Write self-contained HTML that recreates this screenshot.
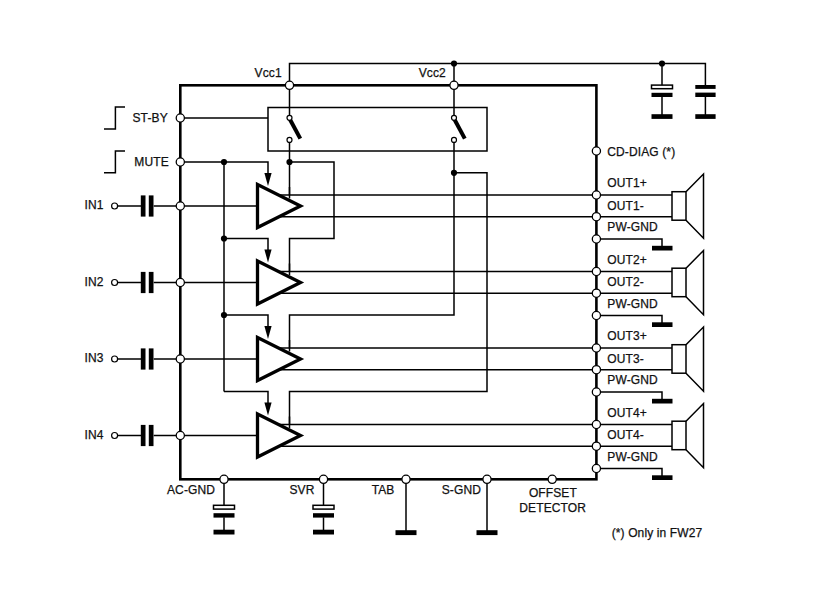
<!DOCTYPE html>
<html><head><meta charset="utf-8"><title>Amplifier block diagram</title>
<style>html,body{margin:0;padding:0;background:#fff;width:814px;height:595px;overflow:hidden}svg{display:block}text{font-family:"Liberation Sans",sans-serif}</style>
</head><body>
<svg width="814" height="595" viewBox="0 0 814 595"><rect width="814" height="595" fill="#fff"/><g stroke="#000" fill="none" stroke-linecap="butt"><polyline points="289.5,85.3 289.5,63.5 705.4,63.5 705.4,86" fill="none" stroke-width="1.5"/><line x1="454.0" y1="63.5" x2="454.0" y2="85.3" stroke-width="1.5"/><line x1="662" y1="63.5" x2="662" y2="86" stroke-width="1.5"/><circle cx="454.0" cy="63.5" r="3.1" fill="#000" stroke="none"/><circle cx="662" cy="63.5" r="3.1" fill="#000" stroke="none"/><rect x="651.5" y="85.1" width="21.0" height="3.6000000000000085" fill="#fff" stroke="#000" stroke-width="1.5"/><rect x="651.5" y="92.8" width="21.0" height="4.200000000000003" fill="#000" stroke="none" stroke-width="0"/><line x1="662" y1="96.8" x2="662" y2="115" stroke-width="1.5"/><rect x="651.5" y="114.2" width="21.0" height="4.700000000000003" fill="#000" stroke="none" stroke-width="0"/><rect x="695.3" y="85.0" width="20.300000000000068" height="3.9000000000000057" fill="#000" stroke="none" stroke-width="0"/><rect x="695.3" y="92.6" width="20.300000000000068" height="4.400000000000006" fill="#000" stroke="none" stroke-width="0"/><line x1="705.4" y1="96.8" x2="705.4" y2="115" stroke-width="1.5"/><rect x="695.3" y="114.2" width="20.300000000000068" height="4.700000000000003" fill="#000" stroke="none" stroke-width="0"/><rect x="268" y="107.5" width="219.0" height="43.5" fill="none" stroke-width="1.5"/><line x1="180.3" y1="118" x2="268" y2="118" stroke-width="1.5"/><line x1="289.5" y1="85.3" x2="289.5" y2="115.5" stroke-width="1.5"/><line x1="289.5" y1="142.5" x2="289.5" y2="162" stroke-width="1.5"/><line x1="290.0" y1="119.5" x2="300.3" y2="138.6" stroke-width="4"/><circle cx="289.5" cy="117.8" r="2.5" fill="#fff" stroke-width="1.2"/><circle cx="289.5" cy="139.9" r="2.5" fill="#fff" stroke-width="1.2"/><line x1="454.0" y1="85.3" x2="454.0" y2="115.5" stroke-width="1.5"/><line x1="454.0" y1="142.5" x2="454.0" y2="172.8" stroke-width="1.5"/><line x1="454.5" y1="119.5" x2="464.8" y2="138.6" stroke-width="4"/><circle cx="454.0" cy="117.8" r="2.5" fill="#fff" stroke-width="1.2"/><circle cx="454.0" cy="139.9" r="2.5" fill="#fff" stroke-width="1.2"/><line x1="224.0" y1="162.0" x2="224.0" y2="391.5" stroke-width="1.5"/><polyline points="180.3,162.0 268.0,162.0 268.0,175.0" fill="none" stroke-width="1.5"/><polygon points="264.4,173.0 271.6,173.0 268.0,186.0" fill="#000" stroke="none"/><polyline points="224.0,238.5 268.0,238.5 268.0,251.5" fill="none" stroke-width="1.5"/><polygon points="264.4,249.5 271.6,249.5 268.0,262.5" fill="#000" stroke="none"/><polyline points="224.0,315.0 268.0,315.0 268.0,328.0" fill="none" stroke-width="1.5"/><polygon points="264.4,326.0 271.6,326.0 268.0,339.0" fill="#000" stroke="none"/><polyline points="224.0,391.5 268.0,391.5 268.0,404.5" fill="none" stroke-width="1.5"/><polygon points="264.4,402.5 271.6,402.5 268.0,415.5" fill="#000" stroke="none"/><circle cx="224.0" cy="162.0" r="3.1" fill="#000" stroke="none"/><circle cx="224.0" cy="238.5" r="3.1" fill="#000" stroke="none"/><circle cx="224.0" cy="315.0" r="3.1" fill="#000" stroke="none"/><line x1="289.5" y1="162" x2="289.5" y2="195.0" stroke-width="1.5"/><polyline points="289.5,162 334.0,162 334.0,238.5 289.5,238.5 289.5,271.5" fill="none" stroke-width="1.5"/><circle cx="289.5" cy="162" r="3.1" fill="#000" stroke="none"/><polyline points="454.0,172.8 487.0,172.8 487.0,391.5 289.5,391.5 289.5,424.5" fill="none" stroke-width="1.5"/><polyline points="454.0,172.8 454.0,315.0 289.5,315.0 289.5,348.0" fill="none" stroke-width="1.5"/><circle cx="454.0" cy="172.8" r="3.1" fill="#000" stroke="none"/><line x1="118" y1="206.0" x2="141.4" y2="206.0" stroke-width="1.5"/><line x1="153.7" y1="206.0" x2="257.5" y2="206.0" stroke-width="1.5"/><rect x="140.8" y="195.4" width="4.699999999999989" height="21.19999999999999" fill="#000" stroke="none" stroke-width="0"/><rect x="148.8" y="195.4" width="4.699999999999989" height="21.19999999999999" fill="#000" stroke="none" stroke-width="0"/><circle cx="114.6" cy="206.0" r="3.0" fill="#fff" stroke-width="1.2"/><line x1="270" y1="195.0" x2="672" y2="195.0" stroke-width="1.5"/><line x1="270" y1="216.7" x2="672" y2="216.7" stroke-width="1.5"/><polygon points="257.5,184.5 300.5,206.0 257.5,227.5" fill="#fff" stroke-width="3.3" stroke-linejoin="miter"/><rect x="672" y="191.7" width="14" height="28.49999999999999" fill="#fff" stroke-width="1.5"/><polyline points="686,191.7 703.5,174.0 703.5,238.2 686,220.2" fill="none" stroke-width="1.5"/><polyline points="596.4,239.0 662,239.0 662,247.0" fill="none" stroke-width="1.5"/><rect x="652" y="245.8" width="20.5" height="4.699999999999989" fill="#000" stroke="none" stroke-width="0"/><line x1="118" y1="282.5" x2="141.4" y2="282.5" stroke-width="1.5"/><line x1="153.7" y1="282.5" x2="257.5" y2="282.5" stroke-width="1.5"/><rect x="140.8" y="271.9" width="4.699999999999989" height="21.200000000000045" fill="#000" stroke="none" stroke-width="0"/><rect x="148.8" y="271.9" width="4.699999999999989" height="21.200000000000045" fill="#000" stroke="none" stroke-width="0"/><circle cx="114.6" cy="282.5" r="3.0" fill="#fff" stroke-width="1.2"/><line x1="270" y1="271.5" x2="672" y2="271.5" stroke-width="1.5"/><line x1="270" y1="293.2" x2="672" y2="293.2" stroke-width="1.5"/><polygon points="257.5,261.0 300.5,282.5 257.5,304.0" fill="#fff" stroke-width="3.3" stroke-linejoin="miter"/><rect x="672" y="268.2" width="14" height="28.49999999999999" fill="#fff" stroke-width="1.5"/><polyline points="686,268.2 703.5,250.5 703.5,314.7 686,296.7" fill="none" stroke-width="1.5"/><polyline points="596.4,315.5 662,315.5 662,323.5" fill="none" stroke-width="1.5"/><rect x="652" y="322.3" width="20.5" height="4.699999999999989" fill="#000" stroke="none" stroke-width="0"/><line x1="118" y1="359.0" x2="141.4" y2="359.0" stroke-width="1.5"/><line x1="153.7" y1="359.0" x2="257.5" y2="359.0" stroke-width="1.5"/><rect x="140.8" y="348.4" width="4.699999999999989" height="21.200000000000045" fill="#000" stroke="none" stroke-width="0"/><rect x="148.8" y="348.4" width="4.699999999999989" height="21.200000000000045" fill="#000" stroke="none" stroke-width="0"/><circle cx="114.6" cy="359.0" r="3.0" fill="#fff" stroke-width="1.2"/><line x1="270" y1="348.0" x2="672" y2="348.0" stroke-width="1.5"/><line x1="270" y1="369.7" x2="672" y2="369.7" stroke-width="1.5"/><polygon points="257.5,337.5 300.5,359.0 257.5,380.5" fill="#fff" stroke-width="3.3" stroke-linejoin="miter"/><rect x="672" y="344.7" width="14" height="28.49999999999999" fill="#fff" stroke-width="1.5"/><polyline points="686,344.7 703.5,327.0 703.5,391.2 686,373.2" fill="none" stroke-width="1.5"/><polyline points="596.4,392.0 662,392.0 662,400.0" fill="none" stroke-width="1.5"/><rect x="652" y="398.8" width="20.5" height="4.699999999999989" fill="#000" stroke="none" stroke-width="0"/><line x1="118" y1="435.5" x2="141.4" y2="435.5" stroke-width="1.5"/><line x1="153.7" y1="435.5" x2="257.5" y2="435.5" stroke-width="1.5"/><rect x="140.8" y="424.9" width="4.699999999999989" height="21.200000000000045" fill="#000" stroke="none" stroke-width="0"/><rect x="148.8" y="424.9" width="4.699999999999989" height="21.200000000000045" fill="#000" stroke="none" stroke-width="0"/><circle cx="114.6" cy="435.5" r="3.0" fill="#fff" stroke-width="1.2"/><line x1="270" y1="424.5" x2="672" y2="424.5" stroke-width="1.5"/><line x1="270" y1="446.2" x2="672" y2="446.2" stroke-width="1.5"/><polygon points="257.5,414.0 300.5,435.5 257.5,457.0" fill="#fff" stroke-width="3.3" stroke-linejoin="miter"/><rect x="672" y="421.2" width="14" height="28.49999999999999" fill="#fff" stroke-width="1.5"/><polyline points="686,421.2 703.5,403.5 703.5,467.7 686,449.7" fill="none" stroke-width="1.5"/><polyline points="596.4,468.5 662,468.5 662,476.5" fill="none" stroke-width="1.5"/><rect x="652" y="475.3" width="20.5" height="4.699999999999989" fill="#000" stroke="none" stroke-width="0"/><line x1="289.5" y1="187.0" x2="289.5" y2="198.5" stroke-width="1.5"/><line x1="289.5" y1="263.5" x2="289.5" y2="275.0" stroke-width="1.5"/><line x1="289.5" y1="340.0" x2="289.5" y2="351.5" stroke-width="1.5"/><line x1="289.5" y1="416.5" x2="289.5" y2="428.0" stroke-width="1.5"/><line x1="224" y1="479.3" x2="224" y2="506" stroke-width="1.5"/><rect x="213.5" y="505.3" width="21.0" height="3.8000000000000114" fill="#fff" stroke="#000" stroke-width="1.5"/><rect x="213.5" y="513.2" width="21.0" height="4.399999999999977" fill="#000" stroke="none" stroke-width="0"/><line x1="224" y1="517.3" x2="224" y2="530" stroke-width="1.5"/><rect x="213.5" y="529.7" width="21.0" height="4.7999999999999545" fill="#000" stroke="none" stroke-width="0"/><line x1="323.5" y1="479.3" x2="323.5" y2="506" stroke-width="1.5"/><rect x="313.0" y="505.3" width="21.0" height="3.8000000000000114" fill="#fff" stroke="#000" stroke-width="1.5"/><rect x="313.0" y="513.2" width="21.0" height="4.399999999999977" fill="#000" stroke="none" stroke-width="0"/><line x1="323.5" y1="517.3" x2="323.5" y2="530" stroke-width="1.5"/><rect x="313.0" y="529.7" width="21.0" height="4.7999999999999545" fill="#000" stroke="none" stroke-width="0"/><line x1="406" y1="479.3" x2="406" y2="531" stroke-width="1.5"/><rect x="395.5" y="530.2" width="21.0" height="4.899999999999977" fill="#000" stroke="none" stroke-width="0"/><line x1="487" y1="479.3" x2="487" y2="531" stroke-width="1.5"/><rect x="476.5" y="530.2" width="21.0" height="4.899999999999977" fill="#000" stroke="none" stroke-width="0"/><rect x="180.3" y="85.3" width="416.09999999999997" height="394.0" fill="none" stroke-width="2.6"/><polyline points="104,129 115.4,129 115.4,107 125,107" fill="none" stroke-width="1.5"/><polyline points="104,172.7 115.4,172.7 115.4,151 125,151" fill="none" stroke-width="1.5"/><circle cx="289.5" cy="85.3" r="4.1" fill="#fff" stroke-width="1.3"/><circle cx="454.0" cy="85.3" r="4.1" fill="#fff" stroke-width="1.3"/><circle cx="180.3" cy="118" r="4.1" fill="#fff" stroke-width="1.3"/><circle cx="180.3" cy="162" r="4.1" fill="#fff" stroke-width="1.3"/><circle cx="180.3" cy="206.0" r="4.1" fill="#fff" stroke-width="1.3"/><circle cx="180.3" cy="282.5" r="4.1" fill="#fff" stroke-width="1.3"/><circle cx="180.3" cy="359.0" r="4.1" fill="#fff" stroke-width="1.3"/><circle cx="180.3" cy="435.5" r="4.1" fill="#fff" stroke-width="1.3"/><circle cx="596.4" cy="151" r="4.1" fill="#fff" stroke-width="1.3"/><circle cx="596.4" cy="195.0" r="4.1" fill="#fff" stroke-width="1.3"/><circle cx="596.4" cy="216.7" r="4.1" fill="#fff" stroke-width="1.3"/><circle cx="596.4" cy="239.0" r="4.1" fill="#fff" stroke-width="1.3"/><circle cx="596.4" cy="271.5" r="4.1" fill="#fff" stroke-width="1.3"/><circle cx="596.4" cy="293.2" r="4.1" fill="#fff" stroke-width="1.3"/><circle cx="596.4" cy="315.5" r="4.1" fill="#fff" stroke-width="1.3"/><circle cx="596.4" cy="348.0" r="4.1" fill="#fff" stroke-width="1.3"/><circle cx="596.4" cy="369.7" r="4.1" fill="#fff" stroke-width="1.3"/><circle cx="596.4" cy="392.0" r="4.1" fill="#fff" stroke-width="1.3"/><circle cx="596.4" cy="424.5" r="4.1" fill="#fff" stroke-width="1.3"/><circle cx="596.4" cy="446.2" r="4.1" fill="#fff" stroke-width="1.3"/><circle cx="596.4" cy="468.5" r="4.1" fill="#fff" stroke-width="1.3"/><circle cx="224" cy="479.3" r="4.1" fill="#fff" stroke-width="1.3"/><circle cx="323.5" cy="479.3" r="4.1" fill="#fff" stroke-width="1.3"/><circle cx="406" cy="479.3" r="4.1" fill="#fff" stroke-width="1.3"/><circle cx="487" cy="479.3" r="4.1" fill="#fff" stroke-width="1.3"/><circle cx="552.2" cy="479.3" r="4.1" fill="#fff" stroke-width="1.3"/></g><g fill="#111" stroke="#111" stroke-width="0.25" letter-spacing="0.12" font-family="Liberation Sans, sans-serif"><text x="254.6" y="77.3" font-size="12">Vcc1</text><text x="418.7" y="77.3" font-size="12">Vcc2</text><text x="132.5" y="122" font-size="12">ST-BY</text><text x="134.3" y="166" font-size="12">MUTE</text><text x="84.6" y="209.3" font-size="12">IN1</text><text x="607.3" y="187.0" font-size="12">OUT1+</text><text x="607.3" y="209.6" font-size="12">OUT1-</text><text x="607.3" y="231.3" font-size="12">PW-GND</text><text x="84.6" y="285.8" font-size="12">IN2</text><text x="607.3" y="263.5" font-size="12">OUT2+</text><text x="607.3" y="286.09999999999997" font-size="12">OUT2-</text><text x="607.3" y="307.8" font-size="12">PW-GND</text><text x="84.6" y="362.3" font-size="12">IN3</text><text x="607.3" y="340.0" font-size="12">OUT3+</text><text x="607.3" y="362.59999999999997" font-size="12">OUT3-</text><text x="607.3" y="384.3" font-size="12">PW-GND</text><text x="84.6" y="438.8" font-size="12">IN4</text><text x="607.3" y="416.5" font-size="12">OUT4+</text><text x="607.3" y="439.09999999999997" font-size="12">OUT4-</text><text x="607.3" y="460.8" font-size="12">PW-GND</text><text x="607.3" y="155.5" font-size="12">CD-DIAG (*)</text><text x="167" y="493.8" font-size="12">AC-GND</text><text x="289.5" y="493.8" font-size="12">SVR</text><text x="371.7" y="493.7" font-size="12">TAB</text><text x="441.7" y="493.7" font-size="12">S-GND</text><text x="528.9" y="496.9" font-size="12">OFFSET</text><text x="519.3" y="511.9" font-size="12">DETECTOR</text><text x="611.7" y="537.3" font-size="12">(*) Only in FW27</text></g></svg>
</body></html>
